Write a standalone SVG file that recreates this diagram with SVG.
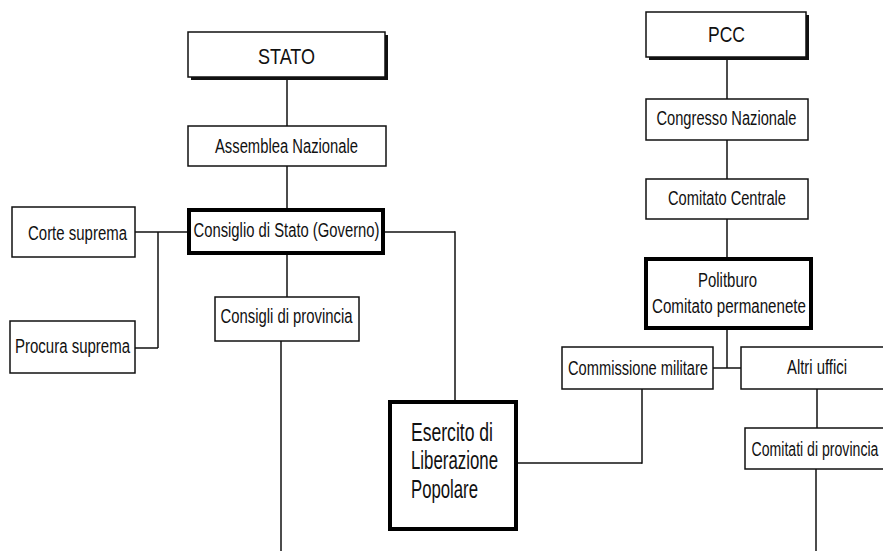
<svg xmlns="http://www.w3.org/2000/svg" width="883" height="551" viewBox="0 0 883 551">
<style>
.box{fill:#fff;stroke:#111;stroke-width:1.5}
.thick{fill:#fff;stroke:#000;stroke-width:4}
.shadow{fill:#111}
.t{font-family:"Liberation Sans",Arial,sans-serif;font-size:20px;fill:#111}
.big{font-size:22px}
.huge{font-size:25px}
.conn line{stroke:#111;stroke-width:1.5}
</style>
<rect width="883" height="551" fill="#fff"/>
<g class="conn">
<line x1="287" y1="78" x2="287" y2="126"/>
<line x1="287" y1="166" x2="287" y2="208"/>
<line x1="287" y1="255" x2="287" y2="297"/>
<line x1="281" y1="341" x2="281" y2="551"/>
<line x1="135" y1="232" x2="188" y2="232"/>
<line x1="158" y1="232" x2="158" y2="348"/>
<line x1="135" y1="348" x2="158" y2="348"/>
<line x1="385" y1="232" x2="455" y2="232"/>
<line x1="455" y1="231.25" x2="455" y2="400"/>
<line x1="518" y1="463" x2="642" y2="463"/>
<line x1="642" y1="389" x2="642" y2="463.75"/>
<line x1="727" y1="58" x2="727" y2="99"/>
<line x1="727" y1="140" x2="727" y2="179"/>
<line x1="727" y1="219" x2="727" y2="257"/>
<line x1="727" y1="330" x2="727" y2="368"/>
<line x1="713" y1="368" x2="741" y2="368"/>
<line x1="817" y1="389" x2="817" y2="428"/>
<line x1="816" y1="469" x2="816" y2="551"/>
</g>
<g id="stato">
<rect class="shadow" x="191" y="35" width="197" height="45"/>
<rect class="box" x="188" y="32" width="197" height="45"/>
<text class="t big" x="286.5" y="63.5" text-anchor="middle" textLength="57" lengthAdjust="spacingAndGlyphs">STATO</text>
</g>
<g id="assemblea">
<rect class="box" x="188" y="126" width="198" height="40"/>
<text class="t" x="286.5" y="152.5" text-anchor="middle" textLength="143" lengthAdjust="spacingAndGlyphs">Assemblea Nazionale</text>
</g>
<g id="consiglio">
<rect class="thick" x="189" y="210" width="194" height="43"/>
<text class="t" x="286.5" y="237" text-anchor="middle" textLength="186" lengthAdjust="spacingAndGlyphs">Consiglio di Stato (Governo)</text>
</g>
<g id="corte">
<rect class="box" x="12" y="207" width="123" height="50"/>
<text class="t" x="77.5" y="240" text-anchor="middle" textLength="99" lengthAdjust="spacingAndGlyphs">Corte suprema</text>
</g>
<g id="procura">
<rect class="box" x="10" y="321" width="125" height="52"/>
<text class="t" x="72.5" y="353" text-anchor="middle" textLength="115" lengthAdjust="spacingAndGlyphs">Procura suprema</text>
</g>
<g id="consigli-provincia">
<rect class="box" x="215" y="297" width="144" height="44"/>
<text class="t" x="286.5" y="323" text-anchor="middle" textLength="132" lengthAdjust="spacingAndGlyphs">Consigli di provincia</text>
</g>
<g id="esercito">
<rect class="thick" x="390" y="402" width="126" height="127"/>
<text class="t huge" x="411" y="440.5" textLength="82" lengthAdjust="spacingAndGlyphs">Esercito di</text>
<text class="t huge" x="411" y="469" textLength="87" lengthAdjust="spacingAndGlyphs">Liberazione</text>
<text class="t huge" x="411" y="497.5" textLength="67" lengthAdjust="spacingAndGlyphs">Popolare</text>
</g>
<g id="pcc">
<rect class="shadow" x="649" y="15" width="160" height="45"/>
<rect class="box" x="646" y="12" width="160" height="45"/>
<text class="t big" x="726.5" y="42" text-anchor="middle" textLength="37" lengthAdjust="spacingAndGlyphs">PCC</text>
</g>
<g id="congresso">
<rect class="box" x="646" y="99" width="162" height="41"/>
<text class="t" x="726.5" y="125" text-anchor="middle" textLength="140" lengthAdjust="spacingAndGlyphs">Congresso Nazionale</text>
</g>
<g id="comitato-centrale">
<rect class="box" x="646" y="179" width="162" height="40"/>
<text class="t" x="727" y="205" text-anchor="middle" textLength="118" lengthAdjust="spacingAndGlyphs">Comitato Centrale</text>
</g>
<g id="politburo">
<rect class="thick" x="646" y="259" width="165" height="69"/>
<text class="t" x="727.5" y="287" text-anchor="middle" textLength="59" lengthAdjust="spacingAndGlyphs">Politburo</text>
<text class="t" x="729" y="313" text-anchor="middle" textLength="154" lengthAdjust="spacingAndGlyphs">Comitato permanenete</text>
</g>
<g id="commissione">
<rect class="box" x="562" y="347" width="151" height="42"/>
<text class="t" x="638" y="374.5" text-anchor="middle" textLength="140" lengthAdjust="spacingAndGlyphs">Commissione militare</text>
</g>
<g id="altri-uffici">
<rect class="box" x="741" y="347" width="160" height="42"/>
<text class="t" x="787" y="374" textLength="60" lengthAdjust="spacingAndGlyphs">Altri uffici</text>
</g>
<g id="comitati-provincia">
<rect class="box" x="745" y="428" width="160" height="41"/>
<text class="t" transform="translate(751.5,455.5) scale(0.705,1)" x="0" y="0">Comitati di provincia</text>
</g>
</svg>
